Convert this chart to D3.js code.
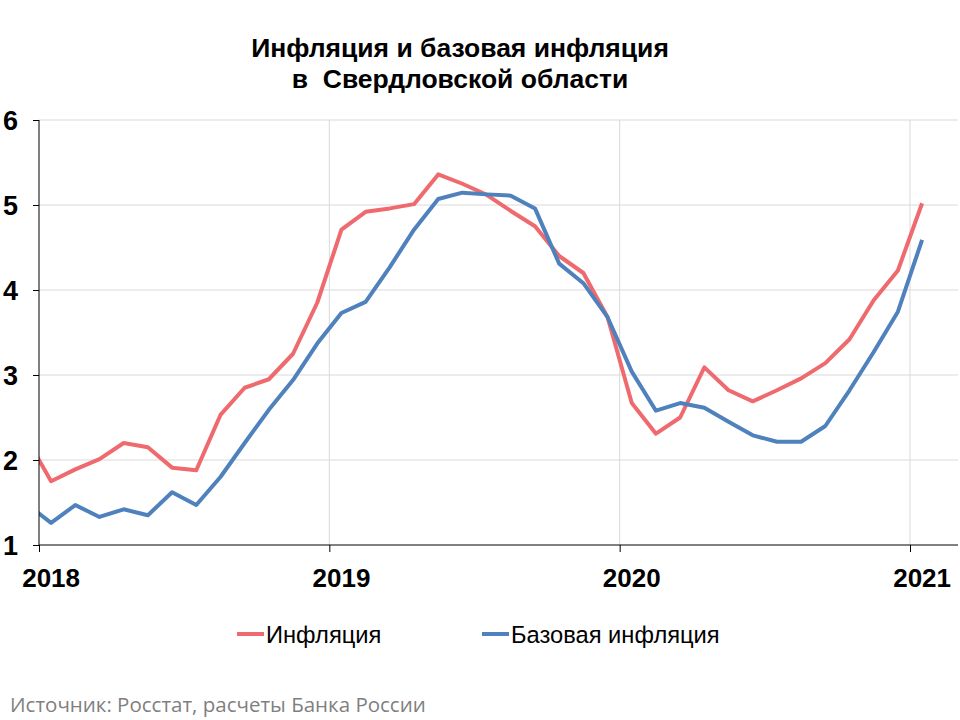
<!DOCTYPE html>
<html><head><meta charset="utf-8">
<script src="https://cdn.jsdelivr.net/npm/d3@7"></script>
<style>body{margin:0;background:#fff;} svg{display:block;}</style>
</head><body>
<script>
// Monthly data, Dec 2017 .. Jan 2021 (first point lies left of the axis and is clipped)
const months = d3.range(-1, 37); // month index, 0 = Jan 2018
const inflation = [2.25, 1.75, 1.89, 2.01, 2.20, 2.15, 1.91, 1.88, 2.53, 2.85, 2.95, 3.25, 3.85,
  4.71, 4.92, 4.96, 5.01, 5.36, 5.25, 5.12, 4.93, 4.75, 4.40, 4.20, 3.68,
  2.67, 2.31, 2.50, 3.09, 2.82, 2.69, 2.82, 2.96, 3.14, 3.42, 3.88, 4.23, 5.02];
const coreInflation = [1.48, 1.26, 1.47, 1.33, 1.42, 1.35, 1.62, 1.47, 1.80, 2.20, 2.59, 2.94, 3.37,
  3.73, 3.86, 4.27, 4.71, 5.07, 5.145, 5.125, 5.11, 4.96, 4.31, 4.08, 3.68,
  3.04, 2.58, 2.67, 2.615, 2.45, 2.29, 2.215, 2.215, 2.40, 2.82, 3.27, 3.745, 4.59];
const yearLabels = ["2018", "2019", "2020", "2021"];
const yTicks = [1, 2, 3, 4, 5, 6];
const seriesNames = ["Инфляция", "Базовая инфляция"];
const colors = ["#EF6A6E", "#4F81BD"];

const W = 960, H = 720;
const pL = 39, pR = 958, pT = 120, pB = 545;

const svg = d3.select("body").append("svg").attr("width", W).attr("height", H);

// x: month index; year boundaries at -0.5, 11.5, 23.5, 35.5
const x = d3.scaleLinear().domain([-0.5, 35.5]).range([pL, 910]);
const y = d3.scaleLinear().domain([1, 6]).range([pB, pT]);

svg.append("defs").append("clipPath").attr("id", "clip")
  .append("rect").attr("x", pL).attr("y", 0).attr("width", pR - pL).attr("height", H);

// gridlines
const grid = svg.append("g");
grid.selectAll("line.h").data(yTicks.slice(1)).join("line")
  .attr("x1", pL).attr("x2", pR)
  .attr("y1", d => y(d)).attr("y2", d => y(d))
  .attr("stroke", "#d9d9d9").attr("stroke-width", 1);
const yearTicks = yearLabels.map((_, i) => i * 12 - 0.5);
grid.selectAll("line.v").data(yearTicks.slice(1)).join("line")
  .attr("x1", d => x(d)).attr("x2", d => x(d))
  .attr("y1", pT).attr("y2", pB)
  .attr("stroke", "#d9d9d9").attr("stroke-width", 1);

// lines
const series = [inflation, coreInflation];
const line = d3.line().x((d, i) => x(months[i])).y(d => y(d));
const lg = svg.append("g").attr("clip-path", "url(#clip)");
series.forEach((s, k) => {
  lg.append("path").datum(s).attr("d", line)
    .attr("fill", "none").attr("stroke", colors[k]).attr("stroke-width", 4)
    .attr("stroke-linejoin", "round");
});

// axes
const yAxis = d3.axisLeft(y).tickValues(yTicks).tickSize(6).tickFormat(d3.format("d"));
const gy = svg.append("g").attr("transform", `translate(${pL},0)`).call(yAxis);
gy.select(".domain").attr("stroke", "#000").attr("d", `M0,${pT}V${pB}`);
gy.selectAll(".tick line").attr("stroke", "#000");
gy.selectAll(".tick text").attr("x", -21).attr("dy", "0.36em")
  .style("font-family", "Liberation Sans, Arial, sans-serif").style("font-size", "27px")
  .style("font-weight", "bold").attr("fill", "#000");

const xAxis = d3.axisBottom(x).tickValues(yearTicks).tickSize(7).tickFormat("");
const gx = svg.append("g").attr("transform", `translate(0,${pB})`).call(xAxis);
gx.select(".domain").attr("stroke", "#000").attr("d", `M${pL},0H${pR}`);
gx.selectAll(".tick line").attr("stroke", "#000");
svg.append("g").selectAll("text").data(yearLabels).join("text")
  .attr("x", (d, i) => x(i * 12)).attr("y", 587)
  .attr("text-anchor", "middle")
  .style("font-family", "Liberation Sans, Arial, sans-serif").style("font-size", "26px")
  .style("font-weight", "bold").text(d => d);

// title
const title = svg.append("text").attr("text-anchor", "middle")
  .style("font-family", "Liberation Sans, Arial, sans-serif").style("font-size", "26.5px")
  .style("font-weight", "bold");
title.append("tspan").attr("x", 460).attr("y", 57).text("Инфляция и базовая инфляция");
title.append("tspan").attr("x", 460).attr("y", 88).attr("xml:space", "preserve").text("в  Свердловской области");

// legend
const legX = [237, 482];
const legTextX = [266, 511];
seriesNames.forEach((n, k) => {
  svg.append("line").attr("x1", legX[k]).attr("x2", legX[k] + 27)
    .attr("y1", 634).attr("y2", 634).attr("stroke", colors[k]).attr("stroke-width", 4);
  svg.append("text").attr("x", legTextX[k]).attr("y", 643)
    .style("font-family", "Liberation Sans, Arial, sans-serif").style("font-size", "23.7px")
    .text(n);
});

// source
svg.append("text").attr("x", 10).attr("y", 712)
  .style("font-family", "Open Sans, sans-serif").style("font-size", "20.5px")
  .attr("fill", "#7f7f7f").text("Источник: Росстат, расчеты Банка России");
</script>
</body></html>
